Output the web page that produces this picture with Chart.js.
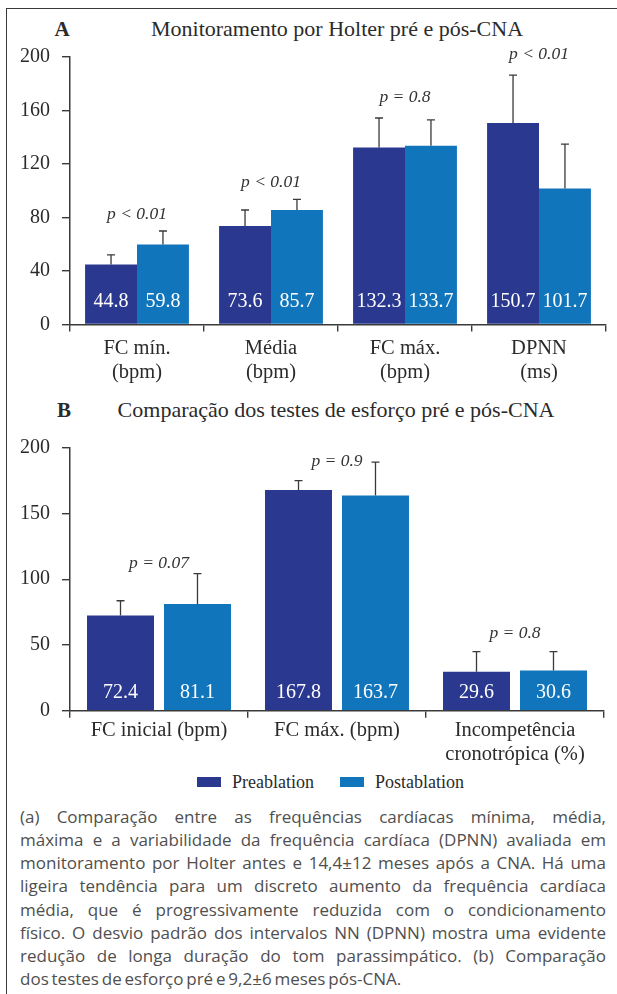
<!DOCTYPE html>
<html><head><meta charset="utf-8">
<script src="https://cdn.jsdelivr.net/npm/chart.js@4.4.0/dist/chart.umd.min.js"></script>
<style>
body{margin:0;width:617px;height:994px;background:#fff;position:relative;overflow:hidden;font-family:'Liberation Serif',serif;color:#2b2b2b}
.frame{position:absolute;left:6px;top:8px;width:640px;height:1000px;border-left:1.5px solid #3a3a3a;border-top:1.5px solid #3a3a3a}
.t{position:absolute;white-space:nowrap;font-size:22px;transform:translate(-50%,-50%);line-height:1}
.b{font-weight:bold;font-size:21px}
canvas{position:absolute;left:0}
.lg{position:absolute;top:777px;width:24px;height:10px}
.lt{position:absolute;top:782px;font-size:18px;transform:translateY(-50%);white-space:nowrap;line-height:1}
#cap{position:absolute;left:20px;top:805px;width:586px;font-family:'Open Sans',sans-serif;font-size:17px;color:#4f4f4f}
#cap div{white-space:nowrap;height:23.15px;line-height:23.15px}
</style></head>
<body>
<div class="frame"></div>
<div class="t b" style="left:62px;top:29px">A</div>
<div class="t" style="left:337px;top:29px">Monitoramento por Holter pré e pós-CNA</div>
<canvas id="ca" width="617" height="390" style="top:0"></canvas>
<div class="t b" style="left:64px;top:410px">B</div>
<div class="t" style="left:336px;top:410px">Comparação dos testes de esforço pré e pós-CNA</div>
<canvas id="cb" width="617" height="350" style="top:420px"></canvas>
<div class="lg" style="left:197px;background:#2a388f"></div>
<div class="lt" style="left:232px">Preablation</div>
<div class="lg" style="left:340px;background:#1175bc"></div>
<div class="lt" style="left:375px">Postablation</div>
<div id="cap"></div>
<script>
// ---- Data: panel A (Holter) ----
const categoriesA = [['FC mín.','(bpm)'],['Média','(bpm)'],['FC máx.','(bpm)'],['DPNN','(ms)']];
const preA = [44.8, 73.6, 132.3, 150.7];
const postA = [59.8, 85.7, 133.7, 101.7];
const preErrTopA = [52.0, 85.6, 154.4, 186.5];
const postErrTopA = [69.9, 93.6, 153.0, 134.9];
const pTextA = ['p < 0.01','p < 0.01','p = 0.8','p < 0.01'];
const pAtA = [82, 106.5, 169.5, 202];
const ticksA = [0, 40, 80, 120, 160, 200];

// ---- Data: panel B (exercise tests) ----
const categoriesB = ['FC inicial (bpm)','FC máx. (bpm)',['Incompetência','cronotrópica (%)']];
const preB = [72.4, 167.8, 29.6];
const postB = [81.1, 163.7, 30.6];
const preErrTopB = [83.6, 174.9, 44.9];
const postErrTopB = [104.2, 189.1, 44.9];
const pTextB = ['p = 0.07','p = 0.9','p = 0.8'];
const pAtB = [112.3, 189.4, 59.1];
const ticksB = [0, 50, 100, 150, 200];

const seriesNames = ['Preablation','Postablation'];
const colors = ['#2a388f','#1175bc'];

const captionLines = [
 '(a) Comparação entre as frequências cardíacas mínima, média,',
 'máxima e a variabilidade da frequência cardíaca (DPNN) avaliada em',
 'monitoramento por Holter antes e 14,4±12 meses após a CNA. Há uma',
 'ligeira tendência para um discreto aumento da frequência cardíaca',
 'média, que é progressivamente reduzida com o condicionamento',
 'físico. O desvio padrão dos intervalos NN (DPNN) mostra uma evidente',
 'redução de longa duração do tom parassimpático. (b) Comparação',
 'dos testes de esforço pré e 9,2±6 meses pós-CNA.'
];

const AX = '#3a3a3a';
function overlay(errs, pText, pAt, valOffset){
  return {id:'overlay', afterDatasetsDraw(chart){
    const ctx = chart.ctx, ys = chart.scales.y, xs = chart.scales.x;
    ctx.save();
    chart.data.datasets.forEach((ds,di)=>{
      chart.getDatasetMeta(di).data.forEach((bar,i)=>{
        const top = ys.getPixelForValue(errs[di][i]);
        ctx.strokeStyle = AX; ctx.lineWidth = 1.3;
        ctx.beginPath();
        ctx.moveTo(bar.x, bar.y); ctx.lineTo(bar.x, top);
        ctx.moveTo(bar.x-4, top); ctx.lineTo(bar.x+4, top);
        ctx.stroke();
        ctx.fillStyle = '#fff'; ctx.font = '20px "Liberation Serif"';
        ctx.textAlign = 'center'; ctx.textBaseline = 'middle';
        ctx.fillText(ds.data[i].toFixed(1), bar.x, ys.getPixelForValue(0) - valOffset);
      });
    });
    ctx.fillStyle = '#333'; ctx.font = 'italic 17.5px "Liberation Serif"';
    ctx.textAlign = 'center'; ctx.textBaseline = 'middle';
    pText.forEach((t,i)=> ctx.fillText(t, xs.getPixelForValue(i), ys.getPixelForValue(pAt[i])));
    ctx.restore();
  }};
}

function makeChart(id, cats, pre, post, errs, pText, pAt, ticks, opt){
  return new Chart(document.getElementById(id), {
    type:'bar',
    data:{labels:cats, datasets:[
      {label:seriesNames[0], data:pre, backgroundColor:colors[0], categoryPercentage:opt.cat, barPercentage:opt.bar},
      {label:seriesNames[1], data:post, backgroundColor:colors[1], categoryPercentage:opt.cat, barPercentage:opt.bar}
    ]},
    options:{
      responsive:false, animation:false,
      layout:{padding:{top:opt.top, right:opt.right, left:0, bottom:0}},
      plugins:{legend:{display:false}, tooltip:{enabled:false}},
      scales:{
        x:{
          grid:{display:true, drawOnChartArea:false, drawTicks:true, tickLength:7, color:AX, lineWidth:1.4, offset:true},
          border:{display:true, color:AX, width:1.5},
          ticks:{color:'#2b2b2b', font:{family:'Liberation Serif', size:20.5, lineHeight:1.18}, padding:opt.xpad, maxRotation:0, autoSkip:false},
          afterFit(s){ s.height = opt.xh; }
        },
        y:{
          min:0, max:ticks[ticks.length-1],
          afterBuildTicks(s){ s.ticks = ticks.map(v=>({value:v})); },
          grid:{display:true, drawOnChartArea:false, drawTicks:true, tickLength:8, color:AX, lineWidth:1.4},
          border:{display:true, color:AX, width:1.5},
          ticks:{color:'#2b2b2b', font:{family:'Liberation Serif', size:20}, padding:12},
          afterFit(s){ s.width = 70; }
        }
      }
    },
    plugins:[overlay(errs, pText, pAt, opt.val)]
  });
}

makeChart('ca', categoriesA, preA, postA, [preErrTopA, postErrTopA], pTextA, pAtA, ticksA,
  {cat:0.775, bar:1.0, top:57, right:11, xh:65.5, xpad:5, val:23});
makeChart('cb', categoriesB, preB, postB, [preErrTopB, postErrTopB], pTextB, pAtB, ticksB,
  {cat:0.865, bar:0.87, top:27.7, right:13, xh:59.3, xpad:1, val:18});

// caption with fixed line breaks, justified by word-spacing
const cap = document.getElementById('cap');
captionLines.forEach((l,i)=>{
  const d = document.createElement('div');
  const sp = document.createElement('span'); sp.textContent = l; sp.style.whiteSpace='nowrap';
  d.appendChild(sp); cap.appendChild(d);
  const n = (l.match(/ /g)||[]).length;
  if(i < captionLines.length-1){
    const w = sp.getBoundingClientRect().width;
    sp.style.wordSpacing = ((586 - w)/n) + 'px';
  } else {
    sp.style.wordSpacing = '-1.6px';
  }
});
</script>
</body></html>
